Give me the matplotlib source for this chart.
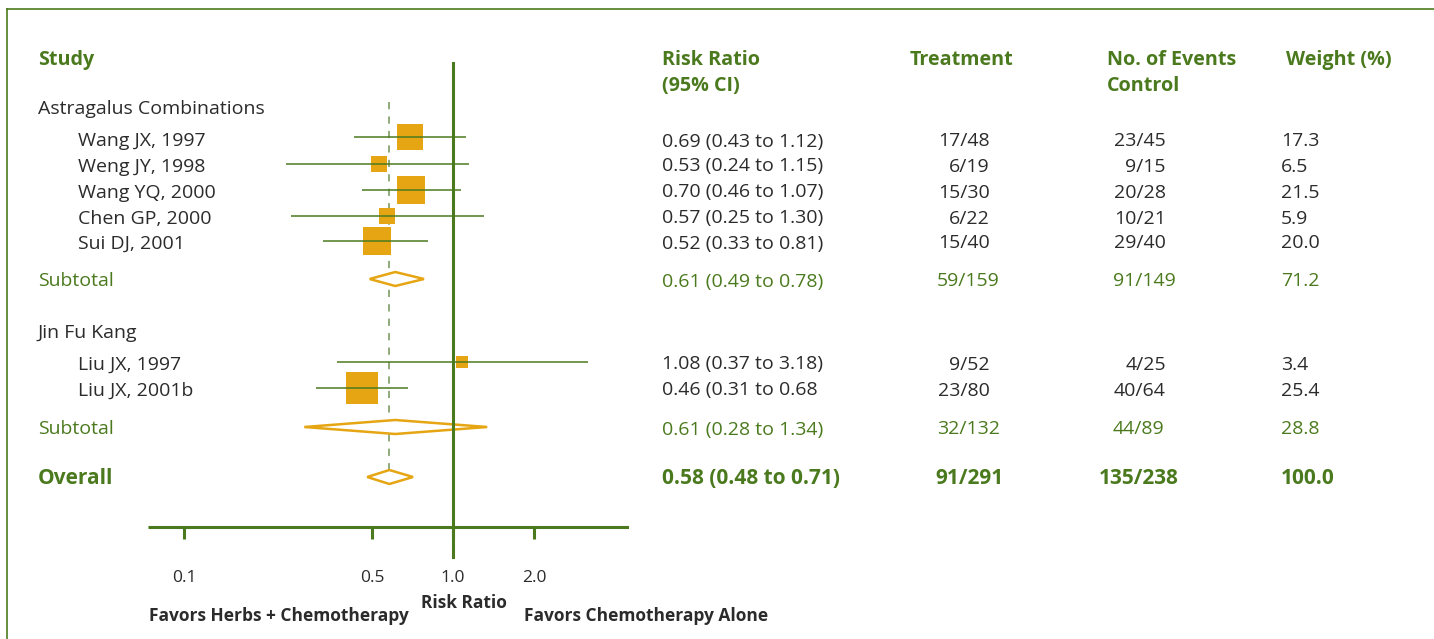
import numpy as np
import matplotlib
matplotlib.use("Agg")
import matplotlib.pyplot as plt
from matplotlib.patches import Polygon

plt.rcParams['font.family'] = ['Open Sans', 'DejaVu Sans']

# ---------------- data ----------------
groups = ["Astragalus Combinations", "Jin Fu Kang"]
studies = ["Wang JX, 1997", "Weng JY, 1998", "Wang YQ, 2000", "Chen GP, 2000", "Sui DJ, 2001",
           "Liu JX, 1997", "Liu JX, 2001b"]
study_group = [0, 0, 0, 0, 0, 1, 1]
rr = [0.69, 0.53, 0.70, 0.57, 0.52, 1.08, 0.46]
ci_lo = [0.43, 0.24, 0.46, 0.25, 0.33, 0.37, 0.31]
ci_hi = [1.12, 1.15, 1.07, 1.30, 0.81, 3.18, 0.68]
rr_labels = ["0.69 (0.43 to 1.12)", "0.53 (0.24 to 1.15)", "0.70 (0.46 to 1.07)",
             "0.57 (0.25 to 1.30)", "0.52 (0.33 to 0.81)", "1.08 (0.37 to 3.18)",
             "0.46 (0.31 to 0.68"]
treatment = ["17/48", "6/19", "15/30", "6/22", "15/40", "9/52", "23/80"]
control = ["23/45", "9/15", "20/28", "10/21", "29/40", "4/25", "40/64"]
weight = [17.3, 6.5, 21.5, 5.9, 20.0, 3.4, 25.4]

sub_rr = [0.61, 0.61]
sub_lo = [0.49, 0.28]
sub_hi = [0.78, 1.34]
sub_labels = ["0.61 (0.49 to 0.78)", "0.61 (0.28 to 1.34)"]
sub_treatment = ["59/159", "32/132"]
sub_control = ["91/149", "44/89"]
sub_weight = ["71.2", "28.8"]

overall_rr = 0.58
overall_lo = 0.48
overall_hi = 0.71
overall_label = "0.58 (0.48 to 0.71)"
overall_treatment = "91/291"
overall_control = "135/238"
overall_weight = "100.0"

ticks = [0.1, 0.5, 1.0, 2.0]
tick_labels = ["0.1", "0.5", "1.0", "2.0"]

# ---------------- layout (pixels) ----------------
W, H = 1434, 639
GREEN = "#4B7A1E"
LGREEN = "#86A56F"
ORANGE = "#E6A512"
DARK = "#2B2B2B"

group_y = [108, 331]
study_y = [137, 164, 190, 216, 241, 362, 388]
study_text_y = [140, 165, 191, 217, 242, 363, 389]
sub_y = [279, 427]
overall_y = 477
header_y = 58
BASE = 6.5  # half cap height -> baseline offset

fig = plt.figure(figsize=(W / 100, H / 100), dpi=100)
bg = fig.add_axes([0, 0, 1, 1])
bg.set_xlim(0, W)
bg.set_ylim(H, 0)
bg.axis("off")


def txt(x, y, s, ha="left", color=DARK, size=14.0, weight="normal"):
    bg.text(x, y + BASE * size / 14.0, s, ha=ha, va="baseline", color=color,
            fontsize=size, fontweight=weight)


# frame lines
bg.plot([7, W], [9, 9], color=GREEN, lw=1.2)
bg.plot([7, 7], [9, H], color=GREEN, lw=1.2)

# forest axes: log x, pixel y
ax_left, ax_right = 148, 629
xr0 = 10 ** ((148 - 453) / 269.0)
xr1 = 10 ** ((629 - 453) / 269.0)
fa = fig.add_axes([ax_left / W, 0, (ax_right - ax_left) / W, 1])
fa.set_xscale("log")
fa.set_xlim(xr0, xr1)
fa.set_ylim(H, 0)
fa.axis("off")

FS = 14.0
HFS = 14.2
OFS = 15.0
# headers
for x, y, s in [(38, header_y, "Study"), (662, header_y, "Risk Ratio"),
                (662, header_y + 26, "(95% CI)"), (910, header_y, "Treatment"),
                (1107, header_y, "No. of Events"), (1107, header_y + 26, "Control"),
                (1286, header_y, "Weight (%)")]:
    txt(x, y, s, color=GREEN, size=HFS, weight="bold")

# group titles
for g, y in zip(groups, group_y):
    txt(38, y, g, size=FS)

# study rows
for i in range(len(studies)):
    y = study_y[i]
    ty = study_text_y[i]
    txt(78, ty, studies[i], size=FS)
    txt(662, ty, rr_labels[i], size=FS)
    txt(990, ty, treatment[i], ha="right", size=FS)
    txt(1166, ty, control[i], ha="right", size=FS)
    txt(1281, ty, f"{weight[i]:.1f}", size=FS)
    # CI line and square
    fa.plot([ci_lo[i], ci_hi[i]], [y, y], color=GREEN, lw=1.1, solid_capstyle="butt", zorder=3)
    side = 6.2 * np.sqrt(weight[i]) * 0.72
    fa.scatter([rr[i]], [y], marker="s", s=side ** 2, color=ORANGE, linewidths=0, zorder=2)

# subtotals
for j in range(2):
    y = sub_y[j]
    ty = y + 1
    txt(38, ty, "Subtotal", color=GREEN, size=FS)
    txt(662, ty, sub_labels[j], color=GREEN, size=FS)
    txt(937, ty, sub_treatment[j], color=GREEN, size=FS)
    txt(1113, ty, sub_control[j], color=GREEN, size=FS)
    txt(1281, ty, sub_weight[j], color=GREEN, size=FS)
    d = Polygon([(sub_lo[j], y), (sub_rr[j], y - 7), (sub_hi[j], y), (sub_rr[j], y + 7)],
                closed=True, facecolor="white", edgecolor=ORANGE, lw=1.8, zorder=4)
    fa.add_patch(d)

# overall
y = overall_y
txt(38, y, "Overall", color=GREEN, size=OFS, weight="bold")
txt(662, y, overall_label, color=GREEN, size=OFS, weight="bold")
txt(935, y, overall_treatment, color=GREEN, size=OFS, weight="bold")
txt(1099, y, overall_control, color=GREEN, size=OFS, weight="bold")
txt(1281, y, overall_weight, color=GREEN, size=OFS, weight="bold")
fa.add_patch(Polygon([(overall_lo, y), (overall_rr, y - 7), (overall_hi, y), (overall_rr, y + 7)],
                     closed=True, facecolor="white", edgecolor=ORANGE, lw=1.8, zorder=4))

# reference lines
fa.plot([1.0, 1.0], [63, 557], color=GREEN, lw=2.2, zorder=5)
fa.plot([overall_rr, overall_rr], [102, 470], color=LGREEN, lw=1.3, ls=(0, (4, 4)), zorder=1)

# x axis
fa.plot([xr0, xr1], [527, 527], color=GREEN, lw=2.2, solid_capstyle="butt")
for t, lab in zip(ticks, tick_labels):
    fa.plot([t, t], [527, 539], color=GREEN, lw=2.2, solid_capstyle="butt")
    fa.text(t, 582, lab, ha="center", va="baseline", color=DARK, fontsize=12.5)

bg.text(464, 608, "Risk Ratio", ha="center", va="baseline", color=DARK, fontsize=12.5,
        fontweight="bold")
bg.text(149, 621, "Favors Herbs + Chemotherapy", ha="left", va="baseline", color=DARK,
        fontsize=12.5, fontweight="bold")
bg.text(524, 621, "Favors Chemotherapy Alone", ha="left", va="baseline", color=DARK,
        fontsize=12.5, fontweight="bold")

fig.savefig("out.png", dpi=100)
